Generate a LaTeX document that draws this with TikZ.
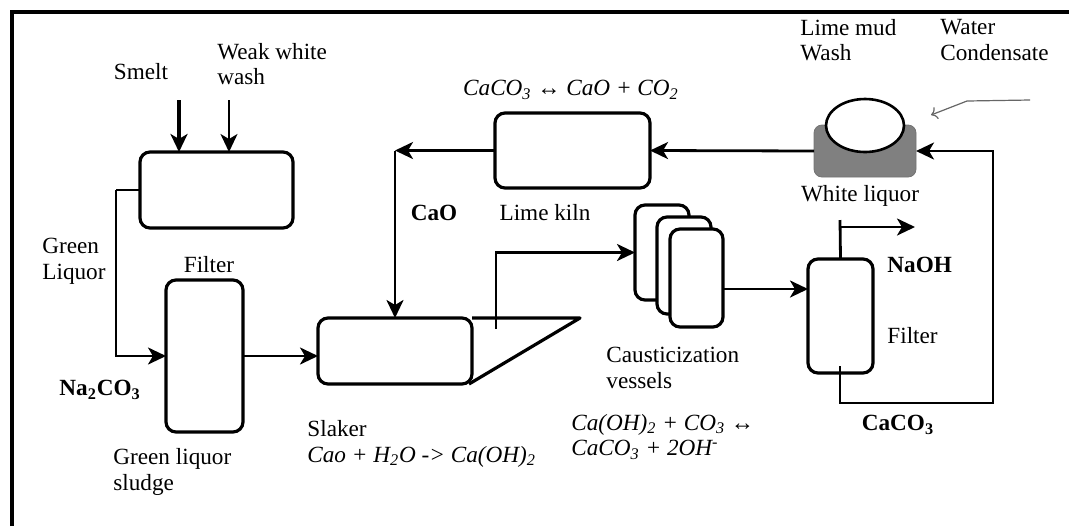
\documentclass[tikz,border=0pt]{standalone}
\usepackage{fontspec}
\setmainfont{Liberation Serif}
\usetikzlibrary{arrows.meta,calc,shapes.geometric}

\begin{document}
\begin{tikzpicture}[x=0.5pt, y=-0.5pt,
    unidad/.style={rectangle, draw=black, line width=1.6pt, rounded corners=5pt, fill=white, inner sep=0pt, outer sep=0pt},
    flujo/.style={-{Stealth[length=9pt, width=8.5pt, inset=2.5pt]}, line width=1.4pt},
    etiqueta/.style={font=\fontsize{11.6}{12.8}\selectfont, align=left, inner sep=0pt},
]
\useasboundingbox (0,0) rectangle (1069,526);
\draw[line width=1.7pt] (12,526) -- (12,12) -- (1069,12);

\node (tank) [unidad, minimum width=76.5pt, minimum height=38pt] at (216.5,190) {};
\node (filtroA) [unidad, minimum width=38.5pt, minimum height=76pt] at (204.5,356) {};
\node (slaker) [unidad, minimum width=77pt, minimum height=33pt] at (395,351) {};
\node (kiln) [unidad, minimum width=77.5pt, minimum height=37.5pt] at (572.5,150.5) {};
\node (v1) [unidad, minimum width=27pt, minimum height=47.5pt] at (662,252.5) {};
\node (v2) [unidad, minimum width=27pt, minimum height=48.5pt] at (684,265.5) {};
\node (v3) [unidad, minimum width=26.5pt, minimum height=49pt] at (696.5,278) {};
\node (filtroB) [unidad, minimum width=32.5pt, minimum height=57pt] at (840.5,316) {};
\node (wl) [rectangle, fill=black!50, draw=black!55, rounded corners=4pt, minimum width=51pt, minimum height=26pt, outer sep=0pt] at (865,151) {};
\node (lodo) [ellipse, draw=black, line width=1.3pt, fill=white, minimum width=39pt, minimum height=26.5pt, inner sep=0pt] at (865,125.5) {};

% textos
\node (smelt) [etiqueta] at (141,72) {Smelt};
\node (weak) [etiqueta, anchor=west] at (217,64) {Weak white\\wash};
\node (green) [etiqueta, anchor=west] at (42,261) {Green\\Liquor};
\node (filtroAtxt) [etiqueta] at (209,265) {Filter};
\node (na) [etiqueta, anchor=west] at (59,390) {\textbf{Na\textsubscript{2}CO\textsubscript{3}}};
\node (sludge) [etiqueta, anchor=west] at (113,472) {Green liquor\\sludge};
\node (slakertxt) [etiqueta, anchor=west] at (307,444) {Slaker\\\textit{Cao + H\textsubscript{2}O -> Ca(OH)\textsubscript{2}}};
\node (kilneq) [etiqueta] at (571,90) {\textit{CaCO\textsubscript{3} ↔ CaO + CO\textsubscript{2}}};
\node (kilntxt) [etiqueta] at (545,213) {Lime kiln};
\node (cao) [etiqueta] at (434,213) {\textbf{CaO}};
\node (mudtxt) [etiqueta, anchor=west] at (800,40) {Lime mud\\Wash};
\node (water) [etiqueta, anchor=west] at (940,40) {Water\\Condensate};
\node (wltxt) [etiqueta] at (860,196) {White liquor};
\node (vesseltxt) [etiqueta, anchor=west] at (606,368) {Causticization\\vessels};
\node (causeq) [etiqueta, anchor=west] at (571,437) {\textit{Ca(OH)\textsubscript{2} + CO\textsubscript{3} ↔}\\\textit{CaCO\textsubscript{3} + 2OH\textsuperscript{-}}};
\node (naoh) [etiqueta, anchor=west] at (887,265) {\textbf{NaOH}};
\node (filtroBtxt) [etiqueta, anchor=west] at (887,336) {Filter};
\node (caco) [etiqueta] at (898,425) {\textbf{CaCO\textsubscript{3}}};

\coordinate (smeltin) at (179,100);
\coordinate (weakin) at (229,100);
\coordinate (glturn) at (116,190);
\coordinate (tip) at (580,318);
\coordinate (slakout) at (496,329);
\coordinate (caocorner) at (395,150.5);
\coordinate (vout) at (723,289);
\coordinate (naohtick) at (840,220);
\coordinate (naohout) at (915,227);
\coordinate (mudout) at (840,366);
\coordinate (retcorner) at (993,403);
\coordinate (wateranchor) at (1030,100);
\coordinate (waterbend) at (967,101);
\coordinate (waterhead) at (931,115);

\draw [flujo, line width=1.6pt] (smeltin) -- (smeltin |- tank.north);
\draw [flujo, line width=1pt] (weakin) -- (weakin |- tank.north);
\draw [line width=0.7pt] (tank.west) -- (glturn);
\draw [flujo] (glturn) |- (filtroA.west);
\draw [flujo] (filtroA.east) -- (filtroA.east -| slaker.west);
\draw [line width=1.6pt, line join=round] (slaker.north east) -- (tip) -- ([xshift=-1.5pt]slaker.south east);
\draw [flujo] (slakout) |- (v1.west);
\draw [flujo] (kiln.west) -- (caocorner);
\draw [flujo] (caocorner) -- (slaker.north);
\draw [flujo] (wl.west) -- (kiln.east);
\draw [flujo] (vout) -- (vout -| filtroB.west);
\draw [line width=1.4pt] (filtroB.north) -- (naohtick);
\draw [flujo] (naohtick |- naohout) -- (naohout);
\draw [flujo] (mudout) |- (retcorner) |- (wl.east);
\draw [-{To[length=3pt]}, draw=black!60, line width=0.6pt] (wateranchor) -- (waterbend) -- (waterhead);

\end{tikzpicture}
\end{document}
